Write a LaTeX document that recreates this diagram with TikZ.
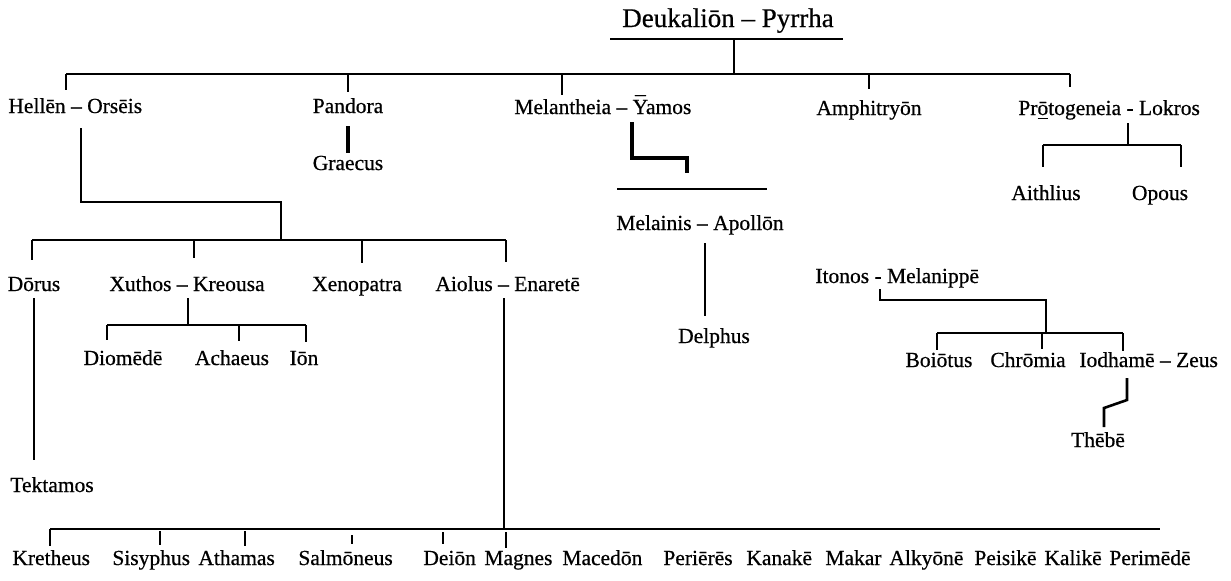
\documentclass[tikz,border=0pt]{standalone}
\usepackage{fontspec}
\setmainfont{Liberation Serif}[FakeBold=0.6]
\newcommand\Ymac{\leavevmode\setbox0\hbox{Y}\rlap{\hbox to\wd0{\hss\raisebox{0.12em}{\char"AF}\hss}}Y}
\begin{document}
\begin{tikzpicture}[x=0.5pt,y=-0.5pt,
  lbl/.style={inner sep=0pt, anchor=base, font=\fontsize{10.75}{12}\selectfont},
  lblw/.style={lbl, anchor=base west},
  ttl/.style={inner sep=0pt, anchor=base, font=\fontsize{13.5}{15}\selectfont},
  ln/.style={line width=1.3pt},
  hk/.style={line width=2pt}]
\useasboundingbox (0,0) rectangle (1231,580);

% title
\node[ttl] (deuk) at (728,27) {Deukaliōn – Pyrrha};
\coordinate (ulL) at (610,39); \coordinate (ulR) at (843,39);
\draw[ln] (ulL) -- (ulR);
\coordinate (tv) at (734,39); \coordinate (tb) at (734,74);
\draw[ln] (tv) -- (tb);

% row 1
\node[lblw] (hellen) at (8,113) {Hellēn – Orsēis};
\node[lbl] (pandora) at (348,113) {Pandora};
\node[lblw] (melan) at (514,114) {Melantheia – \Ymac amos};
\node[lbl] (amph) at (869,115) {Amphitryōn};
\node[lblw] (proto) at (1018,115) {Pr\underline{ō}togeneia - Lokros};

\coordinate (b1L) at (66,74); \coordinate (b1R) at (1070,74);
\draw[ln] (b1L) -- (b1R);
\draw[ln] (b1L) -- (66,90);
\draw[ln] (348,74) -- (348,92);
\draw[ln] (562,74) -- (562,95);
\draw[ln] (869,74) -- (869,89);
\draw[ln] (b1R) -- (1070,87);

% Pandora
\node[lbl] (graecus) at (348,170) {Graecus};
\draw[hk] (348,126) -- (348,153);

% Melantheia
\draw[hk] (632,122) -- (632,158) -- (687,158) -- (687,173);
\coordinate (mlL) at (617,189); \coordinate (mlR) at (767,189);
\draw[line width=1.1pt] (mlL) -- (mlR);
\node[lbl] (melainis) at (700,230) {Melainis – Apollōn};
\node[lbl] (delphus) at (714,343) {Delphus};
\draw[ln] (705,243) -- (705,316);

% Protogeneia
\draw[ln] (1128,123) -- (1128,145);
\coordinate (pbL) at (1043,145); \coordinate (pbR) at (1181,145);
\draw[ln] (pbL) -- (pbR);
\draw[ln] (pbL) -- (1043,167);
\draw[ln] (pbR) -- (1181,167);
\node[lbl] (aith) at (1046,200) {Aithlius};
\node[lbl] (opous) at (1160,200) {Opous};

% Hellen
\draw[ln] (81,128) -- (81,202) -- (281,202) -- (281,240);
\coordinate (b2L) at (32,240); \coordinate (b2R) at (506,240);
\draw[ln] (b2L) -- (b2R);
\draw[ln] (b2L) -- (32,260);
\draw[ln] (194,240) -- (194,258);
\draw[ln] (362,240) -- (362,263);
\draw[ln] (b2R) -- (506,262);

\node[lbl] (dorus) at (34,291) {Dōrus};
\node[lblw] (xuthos) at (109,291) {Xuthos – Kreousa};
\node[lbl] (xeno) at (357,291) {Xenopatra};
\node[lblw] (aiolus) at (435,291) {Aiolus – Enaretē};

% Xuthos
\draw[ln] (188,298) -- (188,325);
\coordinate (b3L) at (107,325); \coordinate (b3R) at (306,325);
\draw[ln] (b3L) -- (b3R);
\draw[ln] (b3L) -- (107,340);
\draw[ln] (239,325) -- (239,341);
\draw[ln] (b3R) -- (306,342);
\node[lbl] (diom) at (123,365) {Diomēdē};
\node[lbl] (achae) at (232,365) {Achaeus};
\node[lbl] (ion) at (304,365) {Iōn};

% Dorus
\draw[ln] (34,298) -- (34,460);
\node[lblw] (tekt) at (10,492) {Tektamos};

% Aiolus
\draw[ln] (504,298) -- (504,529);
\coordinate (b4L) at (50,529); \coordinate (b4R) at (1160,529);
\draw[ln] (b4L) -- (b4R);
\draw[ln] (b4L) -- (50,546);
\draw[ln] (160,531) -- (160,545);
\draw[ln] (245,531) -- (245,546);
\draw[ln] (352,535) -- (352,544);
\draw[ln] (443,532) -- (443,544);
\draw[ln] (506,532) -- (506,548);

\node[lblw] (kret) at (12,565) {Kretheus};
\node[lblw] (sisy) at (112,565) {Sisyphus};
\node[lblw] (atha) at (198,565) {Athamas};
\node[lblw] (salm) at (298,565) {Salmōneus};
\node[lblw] (deion) at (423,565) {Deiōn};
\node[lblw] (magn) at (484,565) {Magnes};
\node[lblw] (mace) at (562,565) {Macedōn};
\node[lblw] (peri) at (663,565) {Periērēs};
\node[lblw] (kana) at (746,565) {Kanakē};
\node[lblw] (maka) at (825,565) {Makar};
\node[lblw] (alky) at (889,565) {Alkyōnē};
\node[lblw] (peis) at (974,565) {Peisikē};
\node[lblw] (kali) at (1044,565) {Kalikē};
\node[lblw] (perim) at (1109,565) {Perimēdē};

% Itonos
\node[lblw] (itonos) at (815,283) {Itonos - Melanippē};
\draw[ln] (880,289) -- (880,300) -- (1046,300) -- (1046,333);
\coordinate (b5L) at (937,333); \coordinate (b5R) at (1123,333);
\draw[ln] (b5L) -- (b5R);
\draw[ln] (b5L) -- (937,350);
\draw[ln] (1042,333) -- (1042,349);
\draw[ln] (b5R) -- (1123,351);
\node[lbl] (boio) at (939,367) {Boiōtus};
\node[lbl] (chro) at (1028,367) {Chrōmia};
\node[lblw] (iodh) at (1079,367) {Iodhamē – Zeus};
\draw[ln] (1127,378) -- (1127,400) -- (1104,408) -- (1104,427);
\node[lbl] (thebe) at (1098,447) {Thēbē};
\end{tikzpicture}
\end{document}
